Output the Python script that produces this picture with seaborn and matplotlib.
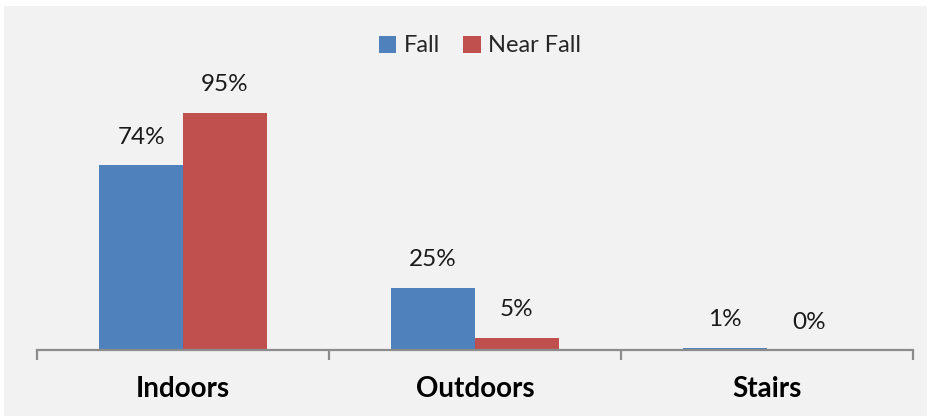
import matplotlib.pyplot as plt
import matplotlib.patches as mpatches
import pandas as pd
import seaborn as sns

# Data
locations = ["Indoors", "Outdoors", "Stairs"]
fall = [74, 25, 1]
near_fall = [95, 5, 0]
series = ["Fall", "Near Fall"]
colors = ["#4F81BD", "#C0504D"]

df = pd.DataFrame(
    {
        "location": locations * 2,
        "pct": fall + near_fall,
        "type": [series[0]] * 3 + [series[1]] * 3,
    }
)

sns.set_theme(style="white")
plt.rcParams["font.family"] = ["Lato", "DejaVu Sans"]

W, H = 931, 417
fig = plt.figure(figsize=(W / 100, H / 100), dpi=100)
fig.patch.set_facecolor("white")
# light gray chart area
fig.patches.append(
    mpatches.Rectangle(
        (4 / W, 1 - 416 / H), 923 / W, 410 / H,
        transform=fig.transFigure, facecolor="#F2F2F2", edgecolor="none", zorder=-10,
    )
)

ax = fig.add_axes([37 / W, (H - 350) / H, 876 / W, 250 / H])
ax.set_facecolor("none")

sns.barplot(
    data=df, x="location", y="pct", hue="type", palette=colors,
    width=0.572, saturation=1, linewidth=0, ax=ax,
)

ax.set_xlim(-0.5, 2.5)
ax.set_ylim(0, 100)

# value labels
for container in ax.containers:
    for bar in container:
        h = bar.get_height()
        ax.annotate(
            f"{h:.0f}%",
            (bar.get_x() + bar.get_width() / 2, h),
            xytext=(0, 20), textcoords="offset points",
            ha="center", va="center", fontsize=17.5, color="#1a1a1a",
            annotation_clip=False,
        )

for s in ["top", "right", "left"]:
    ax.spines[s].set_visible(False)
ax.spines["bottom"].set_color("#8C8C8C")
ax.spines["bottom"].set_linewidth(1.6)

ax.set_yticks([])
ax.set_xticks([0, 1, 2])
ax.set_xticklabels(locations, fontsize=20, fontweight="bold", color="black")
ax.tick_params(axis="x", which="major", length=0, pad=19)
ax.set_xticks([-0.5, 0.5, 1.5, 2.5], minor=True)
ax.tick_params(axis="x", which="minor", length=7, width=1.6, color="#8C8C8C",
               direction="out", bottom=True)
ax.set_xlabel("")
ax.set_ylabel("")

leg = ax.legend(
    loc="center", bbox_to_anchor=(480 / W, 1 - 46 / H), bbox_transform=fig.transFigure,
    ncol=2, frameon=False, fontsize=17, handlelength=0.75, handleheight=0.75,
    handletextpad=0.3, columnspacing=1.0,
)

fig.savefig("out.png", dpi=100)
